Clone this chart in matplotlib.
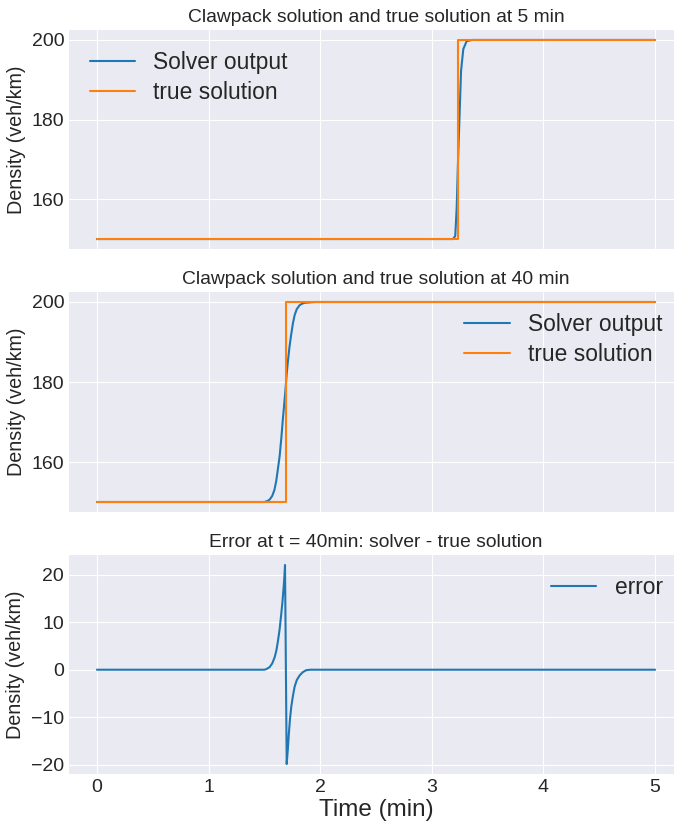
import matplotlib
matplotlib.use('Agg')
import matplotlib.pyplot as plt

# --- data ---
# panel 1: 5 min
t5_solver = [0.0, 3.19, 3.21, 3.223, 3.235, 3.247, 3.262, 3.282, 3.312, 3.36, 5.0]
rho5_solver = [150, 150, 150.8, 158, 170, 179.8, 192.3, 197.7, 199.7, 200, 200]
t5_true = [0.0, 3.237, 3.237, 5.0]
rho5_true = [150, 150, 200, 200]

# panel 2: 40 min
t40_solver = [0.0, 1.50, 1.532, 1.55, 1.57, 1.59, 1.606, 1.62, 1.637, 1.652,
              1.666, 1.678, 1.690, 1.70, 1.711, 1.726, 1.741, 1.756, 1.771,
              1.79, 1.816, 1.84, 1.86, 1.95, 5.0]
rho40_solver = [150, 150, 150.3, 150.7, 151.5, 153, 155.2, 158, 161.5, 166,
                170.8, 174.5, 178.4, 182, 185.2, 189, 192, 194.7, 196.7,
                198.2, 199.2, 199.6, 199.8, 200, 200]
t40_true = [0.0, 1.69, 1.69, 5.0]
rho40_true = [150, 150, 200, 200]

# panel 3: error at 40 min
t_err = [0.0, 1.50, 1.52, 1.547, 1.57, 1.592, 1.608, 1.622, 1.637, 1.651,
         1.662, 1.672, 1.679, 1.685, 1.700, 1.71, 1.720, 1.73, 1.741, 1.756,
         1.771, 1.79, 1.816, 1.845, 1.875, 1.91, 5.0]
err = [0, 0, 0.15, 0.55, 1.3, 2.6, 4.1, 6.1, 8.6, 11.7,
       14.3, 17.2, 19.5, 22.1, -19.9, -16.8, -13.3, -10.3, -7.8, -5.5,
       -3.6, -2.2, -1.2, -0.5, -0.1, 0, 0]

plt.style.use('seaborn-v0_8-darkgrid')
plt.rcParams['font.family'] = ['Liberation Sans', 'DejaVu Sans']
plt.rcParams['text.color'] = '.15'
plt.rcParams['xtick.color'] = '.15'
plt.rcParams['ytick.color'] = '.15'
plt.rcParams['axes.labelcolor'] = '.15'

W, H = 674, 822
fig = plt.figure(figsize=(W / 100, H / 100), dpi=100)

left = 69 / W
width = 614 / W
ax_h = 219 / H
ax1 = fig.add_axes([left, (H - 249) / H, width, ax_h])
ax2 = fig.add_axes([left, (H - 512) / H, width, 220 / H], sharex=ax1)
ax3 = fig.add_axes([left, (H - 774) / H, width, ax_h], sharex=ax1)

tick_fs = 14
title_fs = 13.9
label_fs = 14.2
legend_fs = 16.4
leg_kw = dict(fontsize=legend_fs, labelspacing=0.35)

ax1.plot(t5_solver, rho5_solver, label='Solver output')
ax1.plot(t5_true, rho5_true, label='true solution')
ax1.set_title('Clawpack solution and true solution at 5 min', fontsize=title_fs)
ax1.set_yticks([160, 180, 200])
ax1.legend(loc='upper left', **leg_kw)

ax2.plot(t40_solver, rho40_solver, label='Solver output')
ax2.plot(t40_true, rho40_true, label='true solution')
ax2.set_title('Clawpack solution and true solution at 40 min', fontsize=title_fs)
ax2.set_yticks([160, 180, 200])
ax2.legend(loc='upper right', **leg_kw)

ax3.plot(t_err, err, label='error')
ax3.set_title('Error at t = 40min: solver - true solution', fontsize=title_fs)
ax3.set_yticks([-20, -10, 0, 10, 20])
ax3.legend(loc='upper right', **leg_kw)
ax3.set_xlabel('Time (min)', fontsize=17.5, labelpad=2)

for ax in (ax1, ax2, ax3):
    ax.set_ylabel('Density (veh/km)', fontsize=label_fs)
    ax.tick_params(labelsize=tick_fs)
ax1.set_ylim(147.5, 202.5)
ax2.set_ylim(147.5, 202.5)
ax3.set_xlim(-0.25, 5.25)
ax3.set_xticks([0, 1, 2, 3, 4, 5])
ax1.tick_params(labelbottom=False)
ax2.tick_params(labelbottom=False)

fig.savefig('out.png', dpi=100)
